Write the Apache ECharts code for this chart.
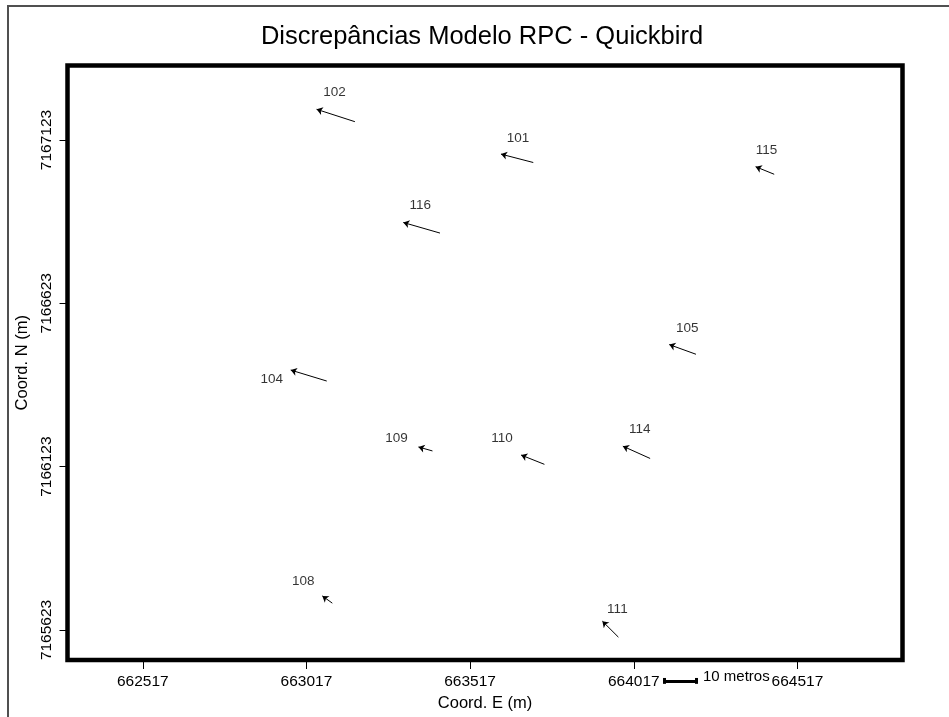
<!DOCTYPE html>
<html>
<head>
<meta charset="utf-8">
<script src="https://cdn.jsdelivr.net/npm/echarts@6/dist/echarts.min.js"></script>
<style>html,body{margin:0;padding:0;background:#fff}#c{width:949px;height:717px}</style>
</head>
<body>
<div id="c"></div>
<script>
// Point ids
var pointIds = ['101','102','104','105','108','109','110','111','114','115','116'];
// Coordinates of each point (m)
var coordE = [663710, 663165, 663079, 664207, 663096, 663402, 663744, 663970, 664067, 664446, 663425];
var coordN = [7167054, 7167179, 7166385, 7166467, 7165705, 7166171, 7166130, 7165601, 7166148, 7167018, 7166838];
// Discrepancies (m)
var discE = [-9.87, -11.70, -11.00, -8.16, -3.05, -4.28, -7.12, -4.89, -8.34, -5.68, -11.21];
var discN = [2.57, 3.79, 3.36, 2.96, 2.23, 1.22, 2.84, 4.89, 3.76, 2.32, 3.24];
// Tick labels
var ticksE = [662517, 663017, 663517, 664017, 664517];
var ticksN = [7165623, 7166123, 7166623, 7167123];
// Vector exaggeration and scale bar
var vectorScale = 10;
var scaleBarMeters = 10;
var scaleBarLabel = '10 metros';

var FONT = "'Liberation Sans', Arial, sans-serif";
var labelOffset = {
  '101':[17,-16],'102':[18,-17],'104':[-19,9],'105':[18,-16],'108':[-19,-15],
  '109':[-22,-9],'110':[-19,-17],'111':[15,-12],'114':[17,-17],'115':[11,-16],'116':[17,-17]
};

var lineData = [], labelData = [];
for (var i = 0; i < pointIds.length; i++) {
  var hx = coordE[i] + vectorScale * discE[i];
  var hy = coordN[i] + vectorScale * discN[i];
  lineData.push({coords: [[coordE[i], coordN[i]], [hx, hy]]});
  labelData.push({value: [hx, hy], name: pointIds[i],
    label: {offset: labelOffset[pointIds[i]]}});
}
var barE0 = 664109, barN = 7165467, cap = 9;
var barLen = scaleBarMeters * vectorScale;
var barData = [
  {coords: [[barE0, barN], [barE0 + barLen, barN]]},
  {coords: [[barE0, barN - cap], [barE0, barN + cap]]},
  {coords: [[barE0 + barLen, barN - cap], [barE0 + barLen, barN + cap]]}
];
function plain(v) { return String(v); }

var chart = echarts.init(document.getElementById('c'), null, {renderer: 'canvas'});
chart.setOption({
  animation: false,
  backgroundColor: '#fff',
  grid: {left: 67.5, right: 46.5, top: 65.5, bottom: 56, show: true,
    borderColor: '#000', borderWidth: 4.5, backgroundColor: 'transparent'},
  graphic: [
    {type: 'rect', shape: {x: 8, y: 6, width: 1200, height: 1200}, silent: true,
      style: {fill: 'none', stroke: '#505050', lineWidth: 2}, z: -1},
    {type: 'text', x: 482, y: 37, silent: true,
      style: {text: 'Discrepâncias Modelo RPC - Quickbird', font: '25.5px ' + FONT,
        fill: '#000', textAlign: 'center', textVerticalAlign: 'middle'}},
    {type: 'text', x: 703, y: 677, silent: true,
      style: {text: scaleBarLabel, font: '15px ' + FONT, fill: '#000',
        textAlign: 'left', textVerticalAlign: 'middle'}}
  ],
  xAxis: {
    type: 'value', min: 662287, max: 664838,
    axisLine: {show: false}, splitLine: {show: false},
    axisTick: {show: true, customValues: ticksE, length: 9, lineStyle: {color: '#000', width: 1}},
    axisLabel: {customValues: ticksE, formatter: plain, color: '#000', fontSize: 15.5, fontFamily: FONT, margin: 14},
    name: 'Coord. E (m)', nameLocation: 'middle', nameGap: 35,
    nameTextStyle: {color: '#000', fontSize: 16.5, fontFamily: FONT}
  },
  yAxis: {
    type: 'value', min: 7165531, max: 7167351,
    axisLine: {show: false}, splitLine: {show: false},
    axisTick: {show: true, customValues: ticksN, length: 8, lineStyle: {color: '#000', width: 1}},
    axisLabel: {customValues: ticksN, formatter: plain, color: '#000', fontSize: 15.5, fontFamily: FONT, margin: 13, rotate: 90},
    name: 'Coord. N (m)', nameLocation: 'middle', nameGap: 33,
    nameTextStyle: {color: '#000', fontSize: 16.5, fontFamily: FONT}
  },
  series: [
    {type: 'lines', coordinateSystem: 'cartesian2d', data: lineData,
      symbol: ['none', 'arrow'], symbolSize: 6,
      lineStyle: {color: '#000', width: 1, opacity: 1}, silent: true},
    {type: 'scatter', data: labelData, symbolSize: 1,
      itemStyle: {color: 'rgba(0,0,0,0)'}, silent: true,
      label: {show: true, position: 'inside', formatter: '{b}', color: '#000',
        fontSize: 13.5, fontFamily: FONT, align: 'center', verticalAlign: 'middle'}},
    {type: 'lines', coordinateSystem: 'cartesian2d', data: barData, clip: false,
      symbol: 'none', lineStyle: {color: '#000', width: 3, opacity: 1}, silent: true}
  ]
});
</script>
</body>
</html>
